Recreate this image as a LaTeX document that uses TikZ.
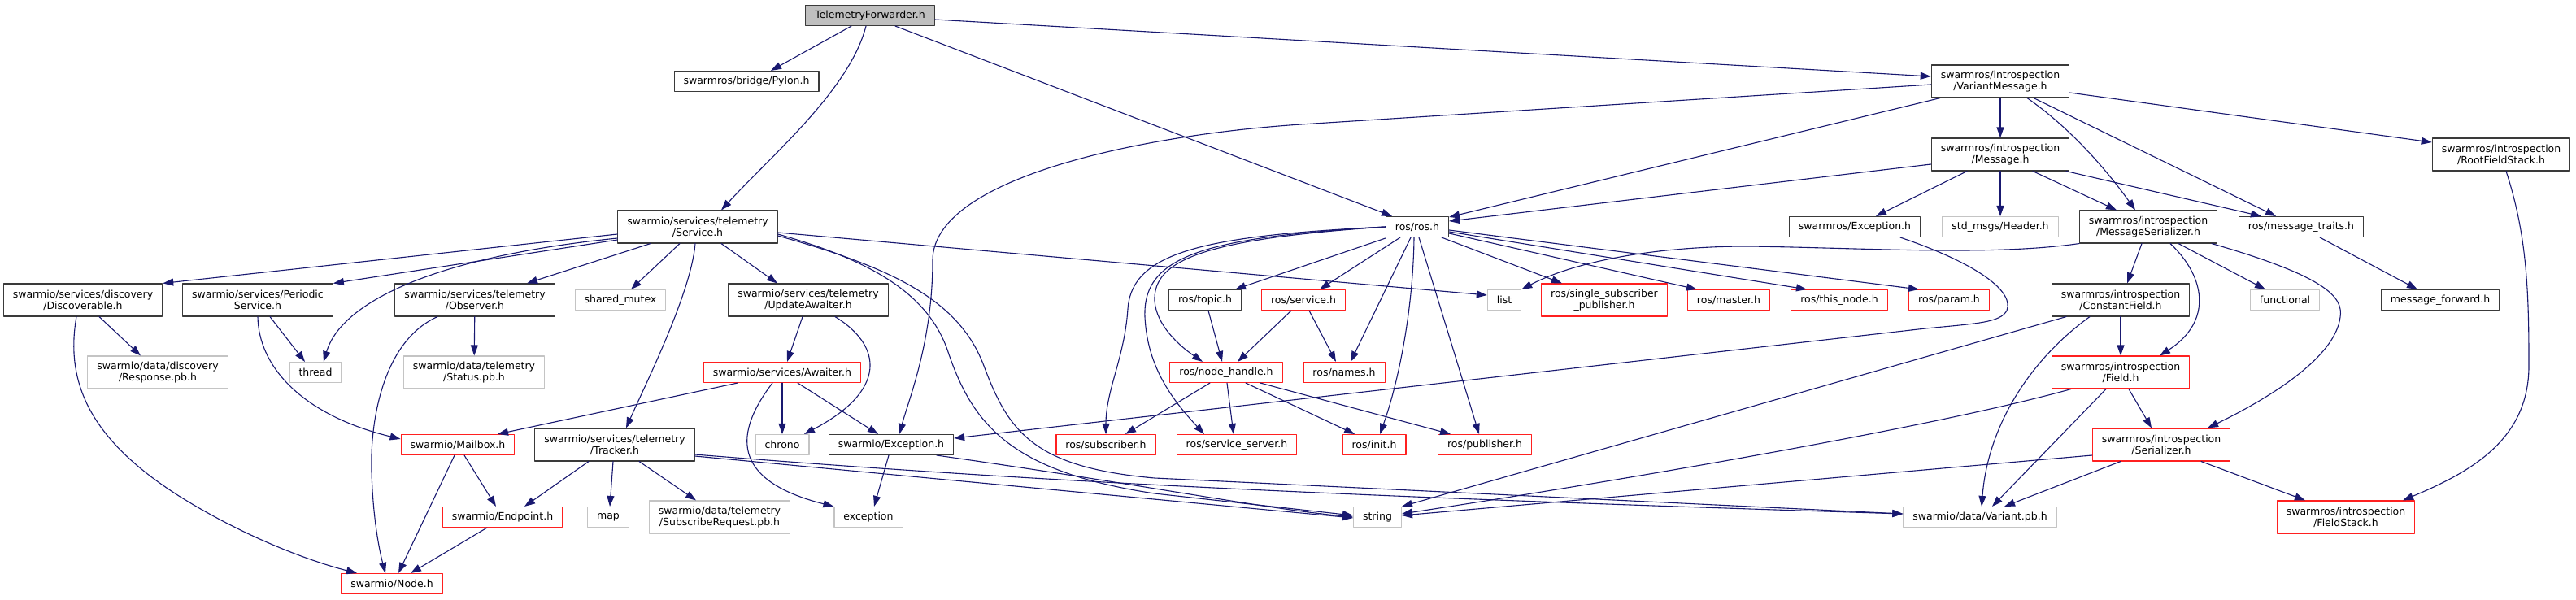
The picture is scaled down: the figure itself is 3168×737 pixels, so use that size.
\documentclass[tikz,border=0pt]{standalone}
\usepackage{fontspec}
\setmainfont{DejaVu Sans}
\usetikzlibrary{arrows.meta}
\definecolor{ink}{HTML}{3A3A3A}
\definecolor{extcol}{HTML}{C4C4C4}
\definecolor{cutcol}{HTML}{FF2020}
\definecolor{selfcol}{HTML}{BFBFBF}
\definecolor{edgecol}{HTML}{191970}

\begin{document}
\begin{tikzpicture}[
  x=1pt, y=-1pt, line cap=round, line join=round,
  hdr/.style={draw=ink, fill=white, line width=1.1pt, inner xsep=11.5pt,
              inner ysep=2pt, minimum height=25pt, align=center,
              font=\fontsize{12.5}{14.3}\selectfont},
  hdrtwo/.style={minimum height=40pt},
  hdrext/.style={draw=extcol},
  hdrcut/.style={draw=cutcol},
  hdrself/.style={fill=selfcol},
  inc/.style={-{Triangle[length=13pt,width=9pt]}, edgecol, line width=1.1pt}]

\fill[white] (0,0) rectangle (3168,737);

% top of the graph
\node[hdr, hdrself] (tf) at (1070,19) {TelemetryForwarder.h};
\node[hdr] (pylon) at (918,100) {swarmros/bridge/Pylon.h};
\node[hdr, hdrtwo] (varmsg) at (2460,100) {swarmros/introspection\\/VariantMessage.h};
\node[hdr, hdrtwo] (msg) at (2460,190) {swarmros/introspection\\/Message.h};
\node[hdr, hdrtwo] (rootfs) at (3076,190) {swarmros/introspection\\/RootFieldStack.h};

\node[hdr, hdrtwo] (service) at (858,279) {swarmio/services/telemetry\\/Service.h};
\node[hdr] (rosh) at (1743,279) {ros/ros.h};
\node[hdr] (srexc) at (2281,279) {swarmros/Exception.h};
\node[hdr, hdrext] (header) at (2460,279) {std\_msgs/Header.h};
\node[hdr, hdrtwo] (msgser) at (2642,279) {swarmros/introspection\\/MessageSerializer.h};
\node[hdr] (traits) at (2830,279) {ros/message\_traits.h};

% middle rows
\node[hdr, hdrtwo] (discov) at (102,369) {swarmio/services/discovery\\/Discoverable.h};
\node[hdr, hdrtwo] (periodic) at (317,369) {swarmio/services/Periodic\\Service.h};
\node[hdr, hdrtwo] (observer) at (584,369) {swarmio/services/telemetry\\/Observer.h};
\node[hdr, hdrext] (shmutex) at (763,369) {shared\_mutex};
\node[hdr, hdrtwo] (updaw) at (994,369) {swarmio/services/telemetry\\/UpdateAwaiter.h};
\node[hdr] (topic) at (1482,369) {ros/topic.h};
\node[hdr, hdrcut] (rservice) at (1603,369) {ros/service.h};
\node[hdr, hdrext] (list) at (1850,369) {list};
\node[hdr, hdrcut, hdrtwo] (ssp) at (1973,369) {ros/single\_subscriber\\\_publisher.h};
\node[hdr, hdrcut] (master) at (2126,369) {ros/master.h};
\node[hdr, hdrcut] (thisnode) at (2262,369) {ros/this\_node.h};
\node[hdr, hdrcut] (param) at (2397,369) {ros/param.h};
\node[hdr, hdrtwo] (constf) at (2608,369) {swarmros/introspection\\/ConstantField.h};
\node[hdr, hdrext] (functional) at (2810,369) {functional};
\node[hdr] (msgfwd) at (3001,369) {message\_forward.h};

\node[hdr, hdrext, hdrtwo] (response) at (194,458) {swarmio/data/discovery\\/Response.pb.h};
\node[hdr, hdrext] (thread) at (388,458) {thread};
\node[hdr, hdrext, hdrtwo] (status) at (583,458) {swarmio/data/telemetry\\/Status.pb.h};
\node[hdr, hdrcut] (awaiter) at (962,458) {swarmio/services/Awaiter.h};
\node[hdr, hdrcut] (nodeh) at (1508,458) {ros/node\_handle.h};
\node[hdr, hdrcut] (names) at (1653,458) {ros/names.h};
\node[hdr, hdrcut, hdrtwo] (field) at (2608,458) {swarmros/introspection\\/Field.h};

\node[hdr, hdrcut] (mailbox) at (563,547) {swarmio/Mailbox.h};
\node[hdr, hdrtwo] (tracker) at (756,547) {swarmio/services/telemetry\\/Tracker.h};
\node[hdr, hdrext] (chrono) at (962,547) {chrono};
\node[hdr] (swexc) at (1096,547) {swarmio/Exception.h};
\node[hdr, hdrcut] (subscriber) at (1360,547) {ros/subscriber.h};
\node[hdr, hdrcut] (srvserver) at (1521,547) {ros/service\_server.h};
\node[hdr, hdrcut] (init) at (1690,547) {ros/init.h};
\node[hdr, hdrcut] (publisher) at (1826,547) {ros/publisher.h};
\node[hdr, hdrcut, hdrtwo] (serializer) at (2658,547) {swarmros/introspection\\/Serializer.h};

% bottom rows
\node[hdr, hdrcut] (endpoint) at (618,636) {swarmio/Endpoint.h};
\node[hdr, hdrext] (map) at (748,636) {map};
\node[hdr, hdrext, hdrtwo] (subreq) at (885,636) {swarmio/data/telemetry\\/SubscribeRequest.pb.h};
\node[hdr, hdrext] (exception) at (1068,636) {exception};
\node[hdr, hdrext] (string) at (1694,636) {string};
\node[hdr, hdrext] (variant) at (2435,636) {swarmio/data/Variant.pb.h};
\node[hdr, hdrcut, hdrtwo] (fieldstack) at (2885,636) {swarmros/introspection\\/FieldStack.h};
\node[hdr, hdrcut] (node) at (482,718) {swarmio/Node.h};

% includes of TelemetryForwarder.h
\draw[inc] ([xshift=-23]tf.south) -- ([xshift=30]pylon.north);
\draw[inc] ([xshift=-5]tf.south) .. controls (1045,110) and (950,190) .. ([xshift=29]service.north);
\draw[inc] ([xshift=31]tf.south) -- ([xshift=-31]rosh.north);
\draw[inc] ([yshift=-5]tf.east) -- ([yshift=6]varmsg.west);

% introspection side
\draw[inc] (varmsg) -- (msg);
\draw[inc] ([xshift=33]varmsg.south) .. controls (2550,160) and (2595,215) .. ([xshift=-16]msgser.north);
\draw[inc] ([xshift=41]varmsg.south) -- ([xshift=-31]traits.north);
\draw[inc] ([yshift=-14]varmsg.east) -- ([yshift=15]rootfs.west);
\draw[inc] ([xshift=-74]varmsg.south) -- ([yshift=12]rosh.east);
\draw[inc] ([yshift=-4]varmsg.west) -- (1600,153) .. controls (1400,166) and (1147,220) .. (1147,320)
  .. controls (1147,420) and (1118,490) .. ([xshift=10]swexc.north);

\draw[inc] ([yshift=-12]msg.west) -- ([yshift=7]rosh.east);
\draw[inc] ([xshift=-41]msg.south) -- ([xshift=26]srexc.north);
\draw[inc] (msg) -- (header);
\draw[inc] ([xshift=40]msg.south) -- ([xshift=-39]msgser.north);
\draw[inc] ([xshift=81]msg.south) -- ([xshift=-49]traits.north);

\draw[inc] ([xshift=6]rootfs.south) .. controls (3108,290) and (3110,360) .. (3110,450)
  .. controls (3110,540) and (3040,580) .. ([xshift=70]fieldstack.north);

\draw[inc] ([xshift=-85]msgser.south) .. controls (2450,315) and (2300,305) .. (2150,303)
  .. controls (2040,303) and (1940,320) .. (list.north east);
\draw[inc] ([xshift=-8]msgser.south) -- ([xshift=8]constf.north);
\draw[inc] ([xshift=27]msgser.south) .. controls (2712,340) and (2722,395) .. ([xshift=48]field.north);
\draw[inc] ([xshift=37]msgser.south) -- ([xshift=-24]functional.north);
\draw[inc] ([xshift=78]msgser.south) .. controls (2860,340) and (2882,365) .. (2878,390)
  .. controls (2872,440) and (2790,490) .. ([xshift=57]serializer.north);

\draw[inc] ([xshift=23]traits.south) -- ([xshift=-28]msgfwd.north);
\draw[inc] ([xshift=56]srexc.south) .. controls (2420,320) and (2478,355) .. (2468,382)
  .. controls (2460,397) and (2430,398) .. (2368,404) -- ([yshift=8]swexc.east);

\draw[inc] (constf) -- (field);
\draw[inc] ([xshift=-38]constf.south) .. controls (2500,440) and (2445,520) .. ([xshift=2]variant.north);
\draw[inc] ([xshift=-67]constf.south) -- (string.north east);

\draw[inc] ([xshift=10]field.south) -- ([xshift=-12]serializer.north);
\draw[inc] ([xshift=-18]field.south) -- ([xshift=15]variant.north);
\draw[inc] ([xshift=-61]field.south) .. controls (2380,525) and (2000,590) .. ([yshift=4]string.east);

\draw[inc] ([xshift=-50]serializer.south) -- ([xshift=30]variant.north);
\draw[inc] ([xshift=49]serializer.south) -- ([xshift=-50]fieldstack.north);
\draw[inc] ([yshift=-13]serializer.west) -- ([yshift=2]string.east);

% swarmio side
\draw[inc] ([yshift=-9]service.west) -- (discov.north east);
\draw[inc] ([yshift=-16]service.west) -- (periodic.north east);
\draw[inc] ([xshift=-58]service.south) -- ([xshift=64]observer.north);
\draw[inc] ([xshift=-22]service.south) -- ([xshift=13]shmutex.north);
\draw[inc] ([xshift=29]service.south) -- ([xshift=-38]updaw.north);
\draw[inc] ([xshift=-3]service.south) .. controls (850,360) and (795,470) .. ([xshift=14]tracker.north);
\draw[inc] ([yshift=-14]service.west) .. controls (540,315) and (420,370) .. ([xshift=10]thread.north);
\draw[inc] ([yshift=-7]service.east) -- ([yshift=6]list.west);
\draw[inc] ([yshift=-9]service.east) .. controls (1070,320) and (1140,360) .. (1165,430)
  .. controls (1195,520) and (1240,580) .. (1420,607) -- ([yshift=2]string.west);
\draw[inc] ([yshift=-11]service.east) .. controls (1100,330) and (1180,370) .. (1210,450)
  .. controls (1240,530) and (1270,575) .. (1420,588) -- ([yshift=4]variant.west);

\draw[inc] (observer) -- (status);
\draw[inc] ([xshift=-46]observer.south) .. controls (470,420) and (455,520) .. (457,580)
  .. controls (459,650) and (470,690) .. ([xshift=-8]node.north);

\draw[inc] ([xshift=20]discov.south) -- ([xshift=-21]response.north);
\draw[inc] ([xshift=-8]discov.south) .. controls (80,470) and (110,540) .. (220,610)
  .. controls (300,660) and (380,690) .. ([xshift=-43]node.north);

\draw[inc] ([xshift=15]periodic.south) -- ([xshift=-13]thread.north);
\draw[inc] (periodic.south) .. controls (318,450) and (370,510) .. ([yshift=7]mailbox.west);

\draw[inc] ([xshift=8]mailbox.south) -- ([xshift=-8]endpoint.north);
\draw[inc] ([xshift=-4]mailbox.south) -- ([xshift=8]node.north);
\draw[inc] ([xshift=-19]endpoint.south) -- ([xshift=23]node.north);

\draw[inc] ([xshift=-55]awaiter.south) -- ([xshift=49]mailbox.north);
\draw[inc] (awaiter) -- (chrono);
\draw[inc] ([xshift=19]awaiter.south) -- ([xshift=-16]swexc.north);
\draw[inc] ([xshift=-12]awaiter.south) .. controls (905,530) and (895,590) .. (exception.north west);

\draw[inc] ([xshift=-7]updaw.south) -- ([xshift=6]awaiter.north);
\draw[inc] ([xshift=33]updaw.south) .. controls (1085,425) and (1092,480) .. ([xshift=27]chrono.north);

\draw[inc] ([xshift=-3]swexc.south) -- ([xshift=7]exception.north);
\draw[inc] ([xshift=56]swexc.south) .. controls (1400,595) and (1550,625) .. (string.west);

\draw[inc] ([xshift=-32]tracker.south) -- ([xshift=27]endpoint.north);
\draw[inc] ([xshift=-2]tracker.south) -- ([xshift=2]map.north);
\draw[inc] ([xshift=30]tracker.south) -- ([xshift=-29]subreq.north);
\draw[inc] ([yshift=-14]tracker.east) -- ([yshift=-1]string.west);
\draw[inc] ([yshift=-12]tracker.east) .. controls (1300,595) and (1700,612) .. ([yshift=4]variant.west);

% ros side
\draw[inc] ([yshift=-14]rosh.west) -- ([xshift=37]topic.north);
\draw[inc] ([xshift=-21]rosh.south) -- ([xshift=20]rservice.north);
\draw[inc] ([xshift=-8]rosh.south) -- ([xshift=8]names.north);
\draw[inc] ([xshift=-4]rosh.south) .. controls (1738,380) and (1720,470) .. ([xshift=7]init.north);
\draw[inc] ([xshift=2]rosh.south) -- ([xshift=-7]publisher.north);
\draw[inc] ([xshift=30]rosh.south) -- ([xshift=-52]ssp.north);
\draw[inc] ([yshift=-8]rosh.east) -- ([xshift=-39]master.north);
\draw[inc] ([yshift=-6]rosh.east) -- ([xshift=-40]thisnode.north);
\draw[inc] ([yshift=-4]rosh.east) -- ([xshift=-37]param.north);
\draw[inc] (rosh.west) .. controls (1480,290) and (1392,310) .. (1387,380)
  .. controls (1383,440) and (1360,480) .. (subscriber.north);
\draw[inc] (rosh.west) .. controls (1480,292) and (1405,315) .. (1408,390)
  .. controls (1411,450) and (1440,490) .. ([xshift=-40]srvserver.north);
\draw[inc] (rosh.west) .. controls (1480,294) and (1418,320) .. (1420,370)
  .. controls (1422,400) and (1450,425) .. ([xshift=-29]nodeh.north);

\draw[inc] ([xshift=4]topic.south) -- ([xshift=-5]nodeh.north);
\draw[inc] ([xshift=-15]rservice.south) -- ([xshift=14]nodeh.north);
\draw[inc] ([xshift=7]rservice.south) -- ([xshift=-10]names.north);

\draw[inc] ([xshift=-20]nodeh.south) -- ([xshift=24]subscriber.north);
\draw[inc] ([xshift=1]nodeh.south) -- ([xshift=-4]srvserver.north);
\draw[inc] ([xshift=24]nodeh.south) -- ([xshift=-24]init.north);
\draw[inc] ([xshift=42]nodeh.south) -- ([xshift=-42]publisher.north);

\end{tikzpicture}
\end{document}
